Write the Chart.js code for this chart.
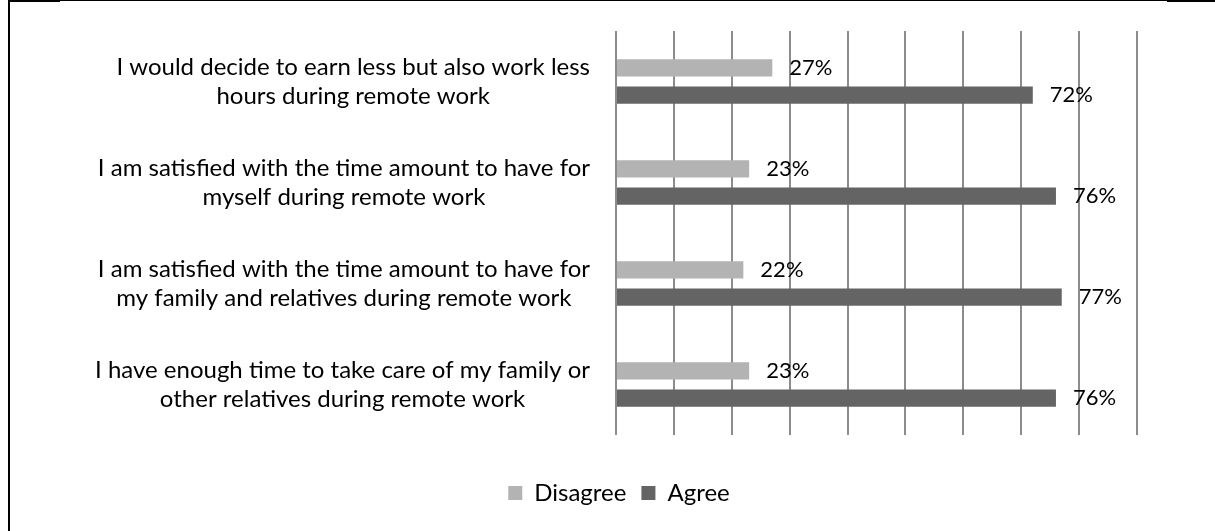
<!DOCTYPE html>
<html lang="en">
<head>
    <meta charset="UTF-8">
    <title>Remote work and free time</title>
    <script src="https://cdn.jsdelivr.net/npm/chart.js"></script>
    <style>
        html, body { margin: 0; padding: 0; background: #fff; }
        .frame { position: relative; width: 1215px; height: 531px; overflow: hidden; }
        .frame canvas { position: absolute; left: 0; top: 0; }
        /* page frame lines around the figure */
        .edge { position: absolute; background: #000; }
    </style>
</head>
<body>
    <div class="frame">
        <canvas id="chart" width="1215" height="531"></canvas>
        <div class="edge" style="left:8px; top:0; width:2px; height:531px;"></div>
        <div class="edge" style="left:8px; top:0; width:1207px; height:1px;"></div>
        <div class="edge" style="left:8px; top:1px; width:52px; height:1px;"></div>
        <div class="edge" style="left:1167px; top:1px; width:48px; height:1px;"></div>
    </div>

    <script>
        const categories = [
            ['I would decide to earn less but also work less', 'hours during remote work'],
            ['I am satisfied with the time amount to have for', 'myself during remote work'],
            ['I am satisfied with the time amount to have for', 'my family and relatives during remote work'],
            ['I have enough time to take care of my family or', 'other relatives during remote work']
        ];
        const disagree = [27, 23, 22, 23];
        const agree = [72, 76, 77, 76];
        const axisMax = 90;
        const axisStep = 10;

        const FONT = 'Lato, "Open Sans", sans-serif';
        const LABEL_SIZE = 24;
        const VALUE_SIZE = 22;

        // category labels: block right-aligned to the axis, lines centred inside the block
        const categoryLabels = {
            id: 'categoryLabels',
            afterDraw(chart) {
                const ctx = chart.ctx;
                const y = chart.scales.y;
                const right = chart.chartArea.left - 26;
                const lineH = 29;
                ctx.save();
                ctx.font = LABEL_SIZE + 'px ' + FONT;
                ctx.fillStyle = '#000';
                ctx.textAlign = 'center';
                ctx.textBaseline = 'middle';
                categories.forEach((lines, i) => {
                    const widest = Math.max(...lines.map(l => ctx.measureText(l).width));
                    const cx = right - widest / 2;
                    const cy = y.getPixelForTick(i);
                    lines.forEach((l, k) => {
                        ctx.fillText(l, cx, cy + (k - (lines.length - 1) / 2) * lineH);
                    });
                });
                ctx.restore();
            }
        };

        // value labels just past the end of each bar
        const valueLabels = {
            id: 'valueLabels',
            afterDatasetsDraw(chart) {
                const ctx = chart.ctx;
                ctx.save();
                ctx.font = VALUE_SIZE + 'px ' + FONT;
                ctx.fillStyle = '#000';
                ctx.textAlign = 'left';
                ctx.textBaseline = 'middle';
                chart.data.datasets.forEach((ds, di) => {
                    chart.getDatasetMeta(di).data.forEach((bar, i) => {
                        ctx.fillText(ds.data[i] + '%', bar.x + 17, bar.y);
                    });
                });
                ctx.restore();
            }
        };

        new Chart(document.getElementById('chart'), {
            type: 'bar',
            data: {
                labels: categories,
                datasets: [
                    { label: 'Disagree', data: disagree, backgroundColor: '#b3b3b3' },
                    { label: 'Agree', data: agree, backgroundColor: '#646464' }
                ]
            },
            options: {
                indexAxis: 'y',
                responsive: false,
                animation: false,
                categoryPercentage: 0.542,
                barPercentage: 0.63,
                layout: { padding: { left: 101, right: 78, top: 31, bottom: 16 } },
                scales: {
                    x: {
                        min: 0,
                        max: axisMax,
                        ticks: { display: false, stepSize: axisStep },
                        grid: { color: '#8c8c8c', lineWidth: 2, drawTicks: false },
                        border: { display: false },
                        afterFit(scale) { scale.height = 31; }
                    },
                    y: {
                        ticks: { display: false },
                        grid: { display: false },
                        border: { display: false },
                        afterFit(scale) { scale.width = 515; }
                    }
                },
                plugins: {
                    legend: {
                        position: 'bottom',
                        labels: {
                            boxWidth: 14,
                            boxHeight: 14,
                            padding: 15,
                            color: '#000',
                            font: { family: FONT, size: LABEL_SIZE }
                        }
                    },
                    tooltip: { enabled: false }
                }
            },
            plugins: [categoryLabels, valueLabels]
        });
    </script>
</body>
</html>
